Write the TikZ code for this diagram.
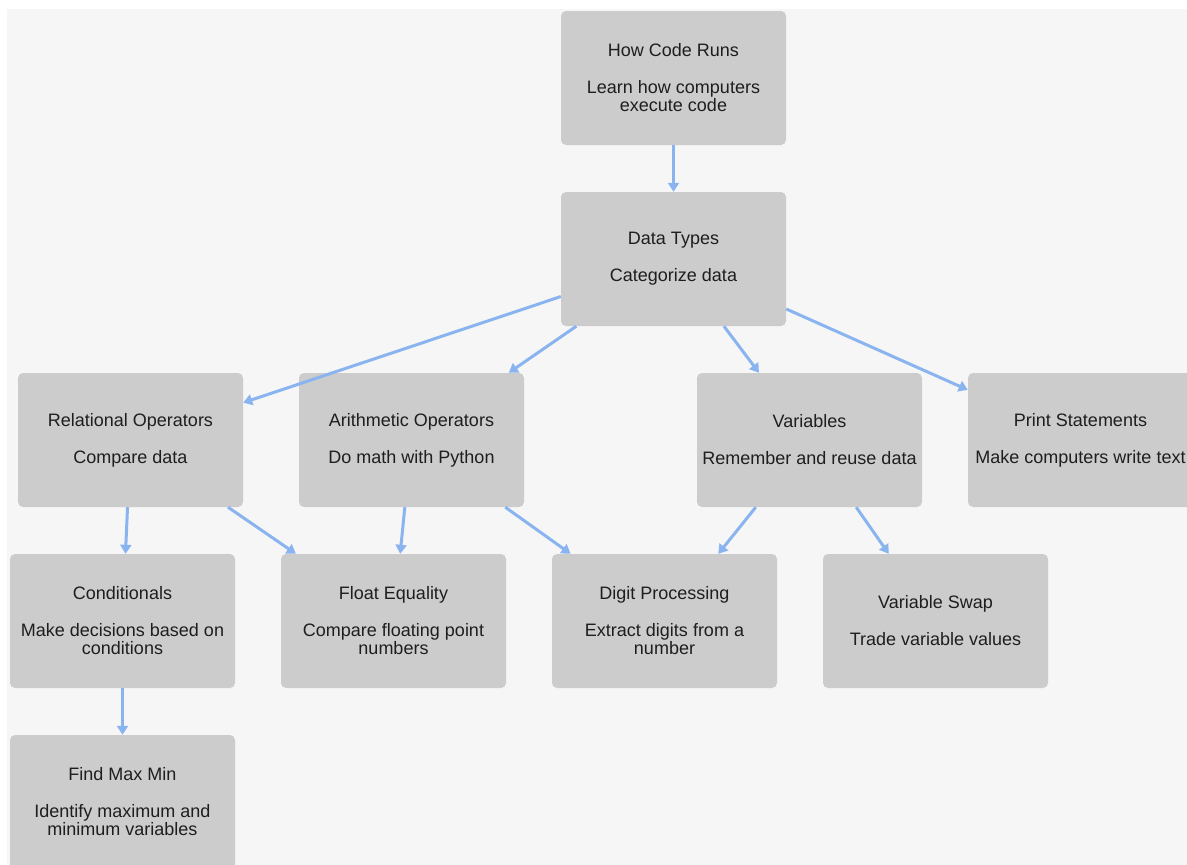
\documentclass[tikz,border=0pt]{standalone}
\usepackage{fontspec}
\setmainfont{Liberation Sans}
\usepackage{tikz}
\usetikzlibrary{arrows, arrows.meta, positioning}
\definecolor{pagebg}{HTML}{F6F6F6}
\definecolor{boxfill}{HTML}{CCCCCC}
\definecolor{linkblue}{HTML}{8AB4F0}
\definecolor{boxtext}{HTML}{1E1E1E}

\begin{document}
\begin{tikzpicture}[x=1pt,y=-1pt,node distance=181pt,on grid,
		lesson/.style={rectangle,rounded corners=5pt,fill=boxfill,text=boxtext,
			minimum width=225pt,minimum height=134pt,align=center,
			font=\fontsize{18}{18}\selectfont},
		link/.style={draw=linkblue,line width=3pt,
			arrows={-Triangle[width=11pt,length=9pt]}}]
%			background and margins
			\useasboundingbox (0,0) rectangle (1187,865);
			\fill[white] (0,0) rectangle (1187,865);
			\fill[pagebg] (7,9) rectangle (1187,865);
			\node[lesson] (howcode) at (673.5,78) {How Code Runs\\[19pt]Learn how computers\\execute code};
			\node[lesson] (dtypes) [below =of howcode] {Data Types\\[19pt]Categorize data};
			\node[lesson] (relop) [below left =181pt and 543pt of dtypes] {Relational Operators\\[19pt]Compare data};
			\node[lesson] (arithop) [right =281pt of relop] {Arithmetic Operators\\[19pt]Do math with Python};
			\node[lesson] (vars) [right =398pt of arithop] {Variables\\[19pt]Remember and reuse data};
			\node[lesson] (printst) [right =271pt of vars] {Print Statements\\[19pt]Make computers write text};
			\node[lesson] (cond) [below left =181pt and 8pt of relop] {Conditionals\\[19pt]Make decisions based on\\conditions};
			\node[lesson] (floateq) [right =271pt of cond] {Float Equality\\[19pt]Compare floating point\\numbers};
			\node[lesson] (digits) [right =271pt of floateq] {Digit Processing\\[19pt]Extract digits from a\\number};
			\node[lesson] (swap) [right =271pt of digits] {Variable Swap\\[19pt]Trade variable values};
			\node[lesson] (maxmin) [below =of cond] {Find Max Min\\[19pt]Identify maximum and\\minimum variables};
			\draw[link] (howcode) -- (dtypes);
			\draw[link] (dtypes) -- (relop);
			\draw[link] (dtypes) -- (arithop);
			\draw[link] (dtypes) -- (vars);
			\draw[link] (dtypes) -- (printst);
			\draw[link] (relop) -- (cond);
			\draw[link] (relop) -- (floateq);
			\draw[link] (arithop) -- (floateq);
			\draw[link] (arithop) -- (digits);
			\draw[link] (vars) -- (digits);
			\draw[link] (vars) -- (swap);
			\draw[link] (cond) -- (maxmin);
		\end{tikzpicture}
\end{document}
